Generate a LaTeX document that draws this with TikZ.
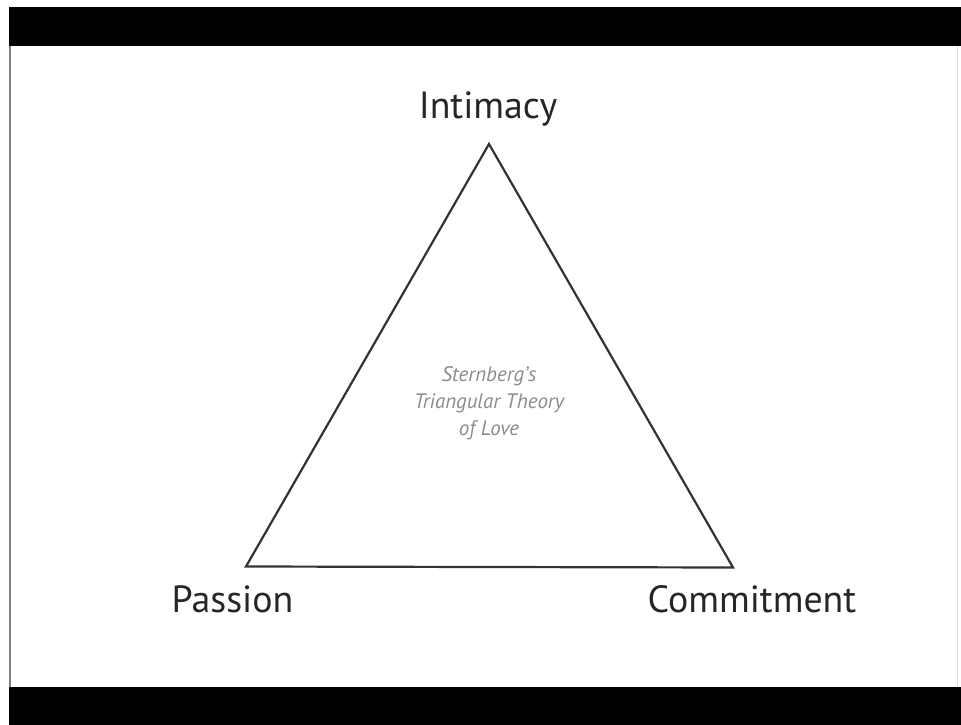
\documentclass[tikz,border=0pt]{standalone}
\usepackage{fontspec}
\setmainfont{PT Sans}
\begin{document}
\begin{tikzpicture}[x=1bp,y=-1bp,
  label/.style={inner sep=0pt,anchor=base,font=\fontsize{38}{40}\selectfont,text=black!85},
  center/.style={inner sep=0pt,align=center,font=\itshape\fontsize{21}{27}\selectfont,text=black!45},
  edge/.style={draw=black!80,line width=2.2bp,line join=miter}]
\useasboundingbox (0,0) rectangle (961,725);
\fill[white] (0,0) rectangle (961,725);
\fill[black] (9,7) rectangle (961,46.5);
\fill[black] (9,687) rectangle (961,725);
\fill[black!50] (9,46.5) rectangle (11,687);
\fill[black!12] (957,46.5) rectangle (958,687);
\coordinate (A) at (489,144);
\coordinate (B) at (246,566.5);
\coordinate (C) at (733,567.5);
\draw[edge] (A) -- (B) -- (C) -- cycle;
\node[label] (int) at (488,119) {Intimacy};
\node[label] (pas) at (232.5,612) {Passion};
\node[label] (com) at (752,612) {Commitment};
\node[center] (title) at (489,403) {Sternberg's\\Triangular Theory\\of Love};
\end{tikzpicture}
\end{document}
